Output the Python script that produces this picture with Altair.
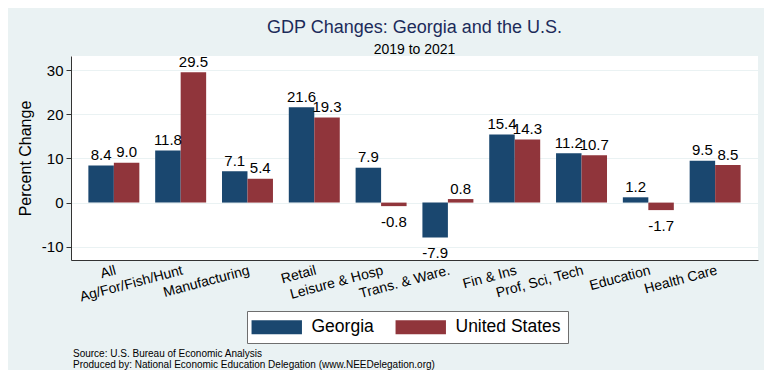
import altair as alt
import pandas as pd

# ---- data ----
categories = ["All", "Ag/For/Fish/Hunt", "Manufacturing", "Retail", "Leisure & Hosp",
              "Trans. & Ware.", "Fin & Ins", "Prof, Sci, Tech", "Education", "Health Care"]
georgia = [8.4, 11.8, 7.1, 21.6, 7.9, -7.9, 15.4, 11.2, 1.2, 9.5]
united_states = [9.0, 29.5, 5.4, 19.3, -0.8, 0.8, 14.3, 10.7, -1.7, 8.5]
series = ["Georgia", "United States"]
colors = ["#1A476F", "#90353B"]
y_ticks = [-10, 0, 10, 20, 30]
title_text = "GDP Changes: Georgia and the U.S."
subtitle_text = "2019 to 2021"
y_title = "Percent Change"
notes = ["Source: U.S. Bureau of Economic Analysis",
         "Produced by: National Economic Education Delegation (www.NEEDelegation.org)"]

rows = []
for name, vals in zip(series, [georgia, united_states]):
    for c, v in zip(categories, vals):
        rows.append({"category": c, "series": name, "value": v, "label": f"{v:.1f}"})
df = pd.DataFrame(rows)

FONT = "Liberation Sans"
W, H = 687, 204

x_enc = alt.X("category:N", sort=categories,
              scale=alt.Scale(paddingInner=0.237, paddingOuter=0.26),
              axis=alt.Axis(title=None, labelAngle=-15, labelAlign="right",
                            labelBaseline="top", labelFontSize=14, labelPadding=3,
                            ticks=False, domainColor="#333333", labelColor="black",
                            labelFont=FONT, labelLimit=300))
xoff = alt.XOffset("series:N", sort=series,
                   scale=alt.Scale(paddingInner=0, paddingOuter=0))
y_enc = alt.Y("value:Q",
              scale=alt.Scale(domain=[-13, 33.2], nice=False, zero=False),
              axis=alt.Axis(title=y_title, values=y_ticks, labelFontSize=15,
                            labelExpr="datum.value + ''",
                            labelFont=FONT, titleFont=FONT, titleFontSize=16,
                            titleFontWeight="normal", titleColor="black",
                            labelColor="black", tickSize=5, tickColor="#333333",
                            domainColor="#333333", gridColor="#EAF2F3",
                            labelPadding=3, titlePadding=8))

base = alt.Chart(df)

bars = base.mark_bar(stroke=None).encode(
    x=x_enc,
    xOffset=xoff,
    y=y_enc,
    color=alt.Color("series:N", sort=series,
                    scale=alt.Scale(domain=series, range=colors),
                    legend=alt.Legend(title=None, orient="none", direction="horizontal",
                                      legendX=176, legendY=255,
                                      symbolType="M-3.6,-1H3.6V1H-3.6Z",
                                      symbolSize=196, symbolStrokeWidth=0,
                                      symbolOpacity=1, symbolOffset=14,
                                      labelFontSize=17.5, labelFont=FONT,
                                      labelColor="black", labelOffset=26,
                                      columnPadding=21, padding=7,
                                      fillColor="white", strokeColor="#6E6E6E")),
)

pos_labels = base.transform_filter("datum.value >= 0").mark_text(
    baseline="alphabetic", dy=-5.5, fontSize=15, font=FONT, color="black"
).encode(x=alt.X("category:N", sort=categories), xOffset=xoff,
         y=alt.Y("value:Q"), text=alt.Text("label:N"))

neg_labels = base.transform_filter("datum.value < 0").mark_text(
    baseline="alphabetic", dy=21, fontSize=15, font=FONT, color="black"
).encode(x=alt.X("category:N", sort=categories), xOffset=xoff,
         y=alt.Y("value:Q"), text=alt.Text("label:N"))

footnote = alt.Chart(pd.DataFrame({"k": [0]})).mark_text(
    align="left", baseline="top", fontSize=10, lineHeight=11, font=FONT,
    color="black"
).encode(x=alt.value(2), y=alt.value(293), text=alt.value(notes))

chart = alt.layer(bars, pos_labels, neg_labels, footnote).properties(
    width=W, height=H,
    autosize=alt.AutoSizeParams(type="none"),
    padding={"left": 63, "top": 48, "right": 6, "bottom": 110},
    background="#EAF2F3",
    title=alt.TitleParams(text=title_text, subtitle=subtitle_text, font=FONT,
                          subtitleFont=FONT, fontSize=18, fontWeight="normal",
                          color="#1C2B5A", subtitleFontSize=14,
                          subtitleColor="black", anchor="middle", frame="group",
                          offset=-2, subtitlePadding=6),
).configure_view(stroke=None, fill="white")

chart.save("out.html", embed_options={"renderer": "svg", "actions": False})
